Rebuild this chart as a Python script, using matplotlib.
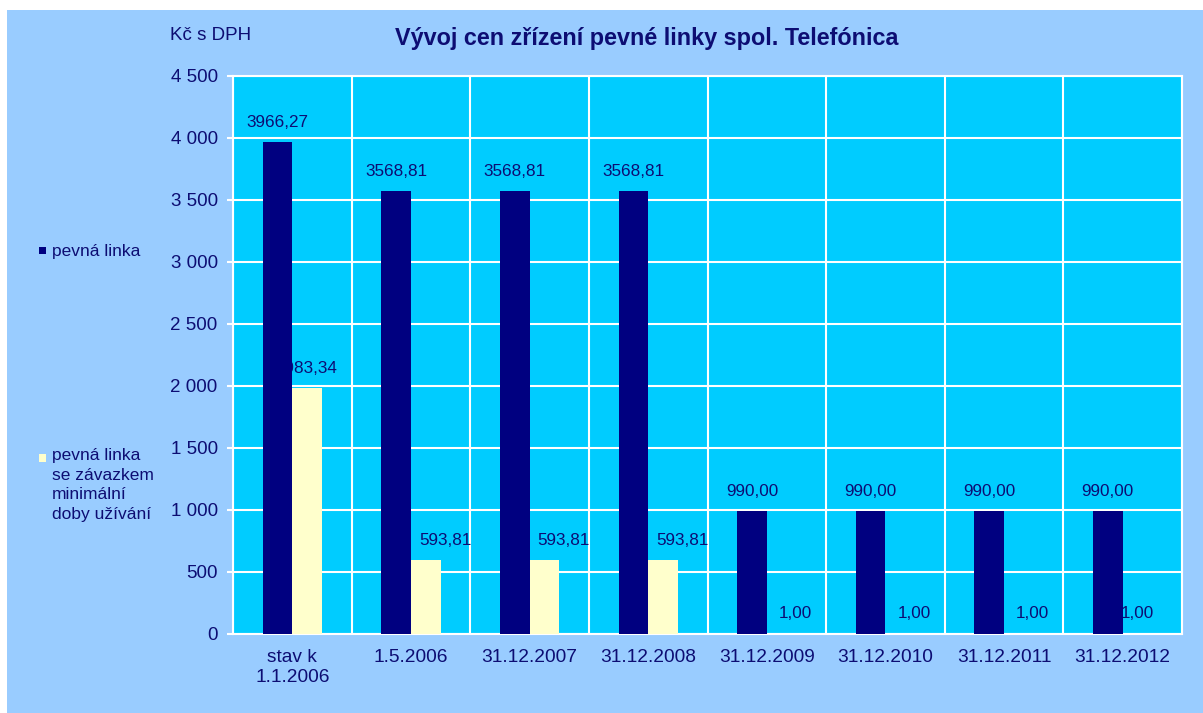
import matplotlib.pyplot as plt
import matplotlib.patches as mpatches
import matplotlib.ticker as mticker
import numpy as np

plt.rcParams['font.family'] = ['Liberation Sans', 'DejaVu Sans']

categories = ['stav k\n1.1.2006', '1.5.2006', '31.12.2007', '31.12.2008',
              '31.12.2009', '31.12.2010', '31.12.2011', '31.12.2012']
pevna = [3966.27, 3568.81, 3568.81, 3568.81, 990.00, 990.00, 990.00, 990.00]
zavazek = [1983.34, 593.81, 593.81, 593.81, 1.00, 1.00, 1.00, 1.00]
series_names = ['pevná linka', 'pevná linka\nse závazkem\nminimální\ndoby užívání']

# horizontal shift (points) of the yellow-bar labels, as placed in the original chart
label_dx = [0, 14, 14, 14, 10, 10, 10, 0]

txt = '#0d0d73'
dark = '#000080'
cream = '#FFFFCC'

W, H = 1203, 713
fig = plt.figure(figsize=(W / 100, H / 100), dpi=100)
fig.patch.set_facecolor('white')
fig.add_artist(mpatches.Rectangle((7 / W, 0), 1 - 7 / W, (H - 10) / H,
                                  transform=fig.transFigure, facecolor='#99CCFF',
                                  edgecolor='none', zorder=-10))

ax = fig.add_axes([233 / W, (H - 634) / H, (1182 - 233) / W, (634 - 76) / H])
ax.set_facecolor('#00CCFF')

x = np.arange(len(categories))
w = 0.25
b1 = ax.bar(x - w / 2, pevna, w, color=dark, zorder=4)
b2 = ax.bar(x + w / 2, zavazek, w, color=cream, zorder=3)

fmt = lambda v: f'{v:.2f}'.replace('.', ',')
for rect, v in zip(b1, pevna):
    ax.annotate(fmt(v), (rect.get_x() + rect.get_width() / 2, v),
                xytext=(0, 9), textcoords='offset points', ha='center', va='bottom',
                fontsize=12.3, color=txt, zorder=5)
for rect, v, dx in zip(b2, zavazek, label_dx):
    ax.annotate(fmt(v), (rect.get_x() + rect.get_width() / 2, v),
                xytext=(dx, 9), textcoords='offset points', ha='center', va='bottom',
                fontsize=12.3, color=txt, zorder=3.5)

ax.set_xlim(-0.5, len(categories) - 0.5)
ax.set_ylim(0, 4500)
ax.yaxis.set_major_locator(mticker.MultipleLocator(500))
ax.yaxis.set_major_formatter(mticker.FuncFormatter(lambda v, p: f'{int(v):,}'.replace(',', ' ')))
ax.set_xticks(x)
ax.set_xticklabels(categories)
ax.set_xticks(np.arange(len(categories) + 1) - 0.5, minor=True)

ax.grid(axis='y', which='major', color='white', linewidth=1.5)
ax.grid(axis='x', which='minor', color='white', linewidth=1.5)
ax.set_axisbelow(True)
for s in ax.spines.values():
    s.set_color('white')
    s.set_linewidth(1.5)

ax.tick_params(axis='y', colors='white', length=4, width=1.5, labelcolor=txt,
               labelsize=13.5, pad=7)
ax.tick_params(axis='x', which='both', length=0, labelcolor=txt, labelsize=13.8, pad=11)

fig.text(647 / W, 1 - 38 / H, 'Vývoj cen zřízení pevné linky spol. Telefónica',
         ha='center', va='center', fontsize=16.8, fontweight='bold', color=txt)
fig.text(170 / W, 1 - 35 / H, 'Kč s DPH', ha='left', va='center', fontsize=13.5, color=txt)

# legend on the left
fig.add_artist(mpatches.Rectangle((39 / W, 1 - 254 / H), 7 / W, 7 / H,
                                  transform=fig.transFigure, facecolor=dark, edgecolor='none'))
fig.text(52 / W, 1 - 251 / H, series_names[0], ha='left', va='center',
         fontsize=12.5, color=txt)
fig.add_artist(mpatches.Rectangle((39 / W, 1 - 462 / H), 7 / W, 8 / H,
                                  transform=fig.transFigure, facecolor=cream, edgecolor='none'))
fig.text(52 / W, 1 - 448 / H, series_names[1], ha='left', va='top',
         fontsize=12.5, color=txt, linespacing=1.38)

fig.savefig('out.png', dpi=100)
